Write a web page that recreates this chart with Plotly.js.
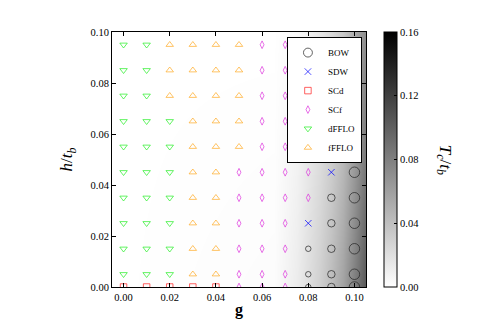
<!DOCTYPE html>
<html>
<head>
<meta charset="utf-8">
<script src="https://cdn.plot.ly/plotly-3.0.1.min.js"></script>
<style>html,body{margin:0;padding:0;background:#fff;}#plot{width:491px;height:327px;}</style>
</head>
<body>
<div id="plot"></div>
<script>
// Grid of coupling g (columns) and field h (rows)
const gVals = [0.00, 0.01, 0.02, 0.03, 0.04, 0.05, 0.06, 0.07, 0.08, 0.09, 0.10];
const hVals = [0.095, 0.085, 0.075, 0.065, 0.055, 0.045, 0.035, 0.025, 0.015, 0.005, 0.0];
// Phase found at each (h, g)
const phaseRows = [
  ['dFFLO','dFFLO','fFFLO','fFFLO','fFFLO','fFFLO','SCf','SCf','SCf','SDW','BOW'],
  ['dFFLO','dFFLO','fFFLO','fFFLO','fFFLO','fFFLO','SCf','SCf','SCf','SDW','BOW'],
  ['dFFLO','dFFLO','fFFLO','fFFLO','fFFLO','fFFLO','SCf','SCf','SCf','SDW','BOW'],
  ['dFFLO','dFFLO','dFFLO','fFFLO','fFFLO','fFFLO','SCf','SCf','SCf','SDW','BOW'],
  ['dFFLO','dFFLO','dFFLO','fFFLO','fFFLO','fFFLO','SCf','SCf','SCf','SDW','BOW'],
  ['dFFLO','dFFLO','dFFLO','fFFLO','fFFLO','SCf','SCf','SCf','SCf','SDW','BOW'],
  ['dFFLO','dFFLO','dFFLO','fFFLO','fFFLO','SCf','SCf','SCf','SCf','BOW','BOW'],
  ['dFFLO','dFFLO','dFFLO','fFFLO','fFFLO','SCf','SCf','SCf','SDW','BOW','BOW'],
  ['dFFLO','dFFLO','dFFLO','fFFLO','fFFLO','SCf','SCf','SCf','BOW','BOW','BOW'],
  ['dFFLO','dFFLO','dFFLO','fFFLO','fFFLO','SCf','SCf','SCf','BOW','BOW','BOW'],
  ['SCd','SCd','SCd','SCd','SCd','SCf','SCf','SCf','BOW','BOW','BOW']
];
const phaseOrder = ['BOW','SDW','SCd','SCf','dFFLO','fFFLO'];

// Background critical temperature Tc/tb (estimated from greyscale)
const tcG = [-0.005, 0.065, 0.075, 0.085, 0.09, 0.095, 0.10, 0.105];
const tcH = [0.0, 0.05, 0.10];
const tcZ = [
  [0, 0.002, 0.012, 0.030, 0.042, 0.058, 0.080, 0.105],
  [0, 0.001, 0.008, 0.022, 0.031, 0.044, 0.062, 0.085],
  [0, 0.000, 0.004, 0.016, 0.024, 0.035, 0.052, 0.072]
];
const cbTicks = [0.00, 0.04, 0.08, 0.12, 0.16];
const xTicks = [0.00, 0.02, 0.04, 0.06, 0.08, 0.10];
const yTicks = [0.00, 0.02, 0.04, 0.06, 0.08, 0.10];

const styles = {
  BOW:   {symbol:'circle-open', color:'#222222', size:7},
  SDW:   {symbol:'x-thin-open', color:'#0000ff', size:6.5},
  SCd:   {symbol:'square-open', color:'#ff2020', size:6.5},
  SCf:   {symbol:'diamond-tall-open', color:'#dd33dd', size:5.5},
  dFFLO: {symbol:'triangle-down-open', color:'#22ee22', size:6.5},
  fFFLO: {symbol:'triangle-up-open', color:'#ffaa22', size:6.5}
};
function bowSize(g){ if (g >= 0.095) return 10.5; if (g >= 0.085) return 7.5; return 5.5; }

const font = 'Liberation Serif, Times New Roman, serif';
const traces = [];
traces.push({
  type:'heatmap', x: tcG, y: tcH, z: tcZ, zsmooth:'best',
  zmin:0, zmax:0.16, colorscale:[[0,'#ffffff'],[1,'#000000']],
  showlegend:false, hoverinfo:'skip',
  colorbar:{
    x:1.071, xanchor:'left', xpad:0, y:0, yanchor:'bottom', ypad:0,
    len:1, lenmode:'fraction', thickness:13, thicknessmode:'pixels',
    outlinewidth:1, outlinecolor:'#000', tickvals:cbTicks,
    ticktext: cbTicks.map(v=>v.toFixed(2)), ticks:'inside', ticklen:3,
    tickcolor:'#000', tickfont:{family:font, size:10.5, color:'#000'}
  }
});
phaseOrder.forEach(p => {
  const xs=[], ys=[], sz=[];
  phaseRows.forEach((row, i) => row.forEach((ph, j) => {
    if (ph === p) { xs.push(gVals[j]); ys.push(hVals[i]); sz.push(p==='BOW'? bowSize(gVals[j]) : styles[p].size); }
  }));
  traces.push({
    type:'scatter', mode:'markers', name:p, x:xs, y:ys, cliponaxis:true,
    marker:{symbol:styles[p].symbol, size:sz, color:styles[p].color,
            line:{color:styles[p].color, width:1}}
  });
});

const axisCommon = {
  showline:true, linecolor:'#000', linewidth:1, mirror:'ticks',
  ticks:'inside', ticklen:4, tickcolor:'#000', tickwidth:1,
  showgrid:false, zeroline:false, tickfont:{family:font, size:10.5, color:'#000'}
};
const layout = {
  width:491, height:327, paper_bgcolor:'#fff', plot_bgcolor:'#fff',
  margin:{l:112, r:125, t:32, b:40},
  xaxis: Object.assign({}, axisCommon, {range:[-0.005, 0.105], tickvals:xTicks,
    ticktext:xTicks.map(v=>v.toFixed(2)),
    title:{text:'<b>g</b>', font:{family:font, size:16, color:'#000'}, standoff:2}}),
  yaxis: Object.assign({}, axisCommon, {range:[0, 0.1], tickvals:yTicks,
    ticktext:yTicks.map(v=>v.toFixed(2)),
    title:{text:'<i>h</i>/<i>t</i><sub><i>b</i></sub>', font:{family:font, size:17, color:'#000'}, standoff:13}}),
  legend:{x:0.984, xanchor:'right', y:0.98, yanchor:'top', bgcolor:'#fff',
    bordercolor:'#000', borderwidth:1, font:{family:font, size:9, color:'#000'},
    tracegroupgap:0, itemwidth:30},
  annotations:[{
    xref:'paper', yref:'paper', x:1.31, y:0.5, xanchor:'center', yanchor:'middle',
    text:'<i>T</i><sub><i>c</i></sub>/<i>t</i><sub><i>b</i></sub>', textangle:90, showarrow:false,
    font:{family:font, size:17, color:'#000'}
  }]
};
Plotly.newPlot('plot', traces, layout, {displayModeBar:false, staticPlot:true});
</script>
</body>
</html>
